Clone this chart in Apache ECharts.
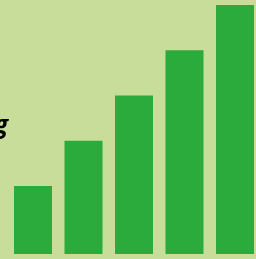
<!DOCTYPE html>
<html><head><meta charset="utf-8">
<script src="https://cdn.jsdelivr.net/npm/echarts@6/dist/echarts.min.js"></script>
<style>html,body{margin:0;padding:0;background:#c9dd9b;overflow:hidden;}#c{width:264px;height:259px;}</style>
</head><body><div id="c"></div>
<script>
const categories = ['A', 'B', 'C', 'D', 'E'];
const values = [1.5, 2.5, 3.5, 4.5, 5.5];
const titleText = 'Growing';

const chart = echarts.init(document.getElementById('c'), null, {renderer: 'canvas'});
chart.setOption({
  backgroundColor: '#c9dd9b',
  animation: false,
  grid: {left: 7.75, width: 252.5, top: 5, height: 249},
  xAxis: {type: 'category', data: categories, show: false},
  yAxis: {type: 'value', min: 0, max: 5.5, show: false},
  series: [{type: 'bar', data: values, barWidth: 38, itemStyle: {color: '#2bab3b'}}],
  graphic: [{
    type: 'text', left: -90, top: 113, z: 10,
    style: {text: titleText, font: 'italic bold 25px "Open Sans"', fill: '#000', width: 100, align: 'right'}
  }]
});
</script></body></html>
